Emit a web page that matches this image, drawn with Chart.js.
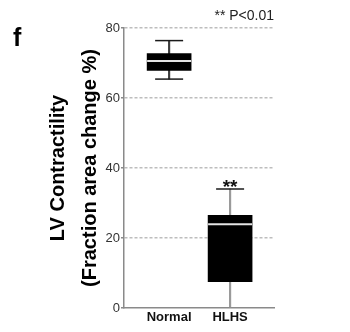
<!DOCTYPE html>
<html>
<head>
<meta charset="utf-8">
<script src="https://cdn.jsdelivr.net/npm/chart.js@4.4.0/dist/chart.umd.min.js"></script>
<style>
html, body { margin: 0; padding: 0; background: #fff; }
</style>
</head>
<body>
<canvas id="myChart" width="350" height="332"></canvas>
<script>
var categories = ['Normal', 'HLHS'];
var whiskerMin = [65.4, 0];
var quart1 = [67.9, 7.5];
var medians = [70.6, 23.9];
var quart3 = [72.7, 26.5];
var whiskerMax = [76.4, 34.0];
var yTicks = [0, 20, 40, 60, 80];
var sigMarks = ['', '**'];

var FONT = '"Liberation Sans", Arial, sans-serif';

function points(vals) {
    return vals.map(function (v, i) { return {x: i, y: v}; });
}
function ranges(lo, hi) {
    return lo.map(function (v, i) { return {x: i, y: [v, hi[i]]}; });
}

// text that is not part of the axes: panel letter, p-value note, stars
var annotate = {
    id: 'annotate',
    afterDraw: function (chart) {
        var ctx = chart.ctx;
        var xs = chart.scales.x, ys = chart.scales.y;
        ctx.save();
        ctx.fillStyle = '#000';
        ctx.textBaseline = 'alphabetic';
        ctx.textAlign = 'left';
        ctx.font = 'bold 25px ' + FONT;
        ctx.fillText('f', 13, 46);

        ctx.fillStyle = '#222';
        ctx.textAlign = 'right';
        ctx.font = '14px ' + FONT;
        ctx.fillText('** P<0.01', chart.chartArea.right, 20);

        ctx.fillStyle = '#111';
        ctx.textAlign = 'center';
        ctx.font = 'bold 19px ' + FONT;
        for (var i = 0; i < sigMarks.length; i++) {
            if (!sigMarks[i]) continue;
            ctx.fillText(sigMarks[i], xs.getPixelForValue(i), ys.getPixelForValue(whiskerMax[i]) + 4);
        }
        ctx.restore();
    }
};

var ctx = document.getElementById('myChart');
var chart = new Chart(ctx, {
    data: {
        datasets: [
            {
                type: 'bar',
                data: ranges(whiskerMin, whiskerMax),
                backgroundColor: ['#3c3c3c', '#9a9a9a'],
                barThickness: 1.5,
                grouped: false,
                order: 3
            },
            {
                type: 'bar',
                data: ranges(quart1, quart3),
                backgroundColor: '#000',
                barThickness: 44,
                grouped: false,
                order: 1
            },
            {
                type: 'line',
                data: points(whiskerMax),
                showLine: false,
                pointStyle: 'line',
                pointRadius: 14,
                pointBorderWidth: 1.5,
                pointBorderColor: '#1a1a1a',
                order: 2
            },
            {
                type: 'line',
                data: points(whiskerMin),
                showLine: false,
                pointStyle: 'line',
                pointRadius: 14,
                pointBorderWidth: 1.5,
                pointBorderColor: ['#1a1a1a', '#8a8a8a'],
                order: 2
            },
            {
                type: 'line',
                data: points(medians),
                showLine: false,
                pointStyle: 'line',
                pointRadius: 22,
                pointBorderWidth: 2,
                pointBorderColor: '#e4e4e4',
                order: 0
            }
        ]
    },
    options: {
        responsive: false,
        animation: false,
        events: [],
        layout: {padding: {top: 28, right: 76, bottom: 0, left: 0}},
        plugins: {
            legend: {display: false},
            tooltip: {enabled: false}
        },
        scales: {
            x: {
                type: 'linear',
                min: -0.74,
                max: 1.72,
                offset: false,
                bounds: 'data',
                afterBuildTicks: function (s) {
                    s.ticks = categories.map(function (c, i) { return {value: i}; });
                },
                afterFit: function (s) { s.height = 18; },
                ticks: {
                    callback: function (v) { return categories[v]; },
                    color: '#111',
                    font: {family: FONT, size: 13, weight: 'bold'},
                    padding: 2,
                    maxRotation: 0,
                    autoSkip: false
                },
                grid: {display: false, drawTicks: false},
                border: {display: true, color: '#8a8a8a', width: 1.5}
            },
            y: {
                min: 0,
                max: 80,
                afterBuildTicks: function (s) {
                    s.ticks = yTicks.map(function (v) { return {value: v}; });
                },
                afterFit: function (s) { s.width = 124; },
                ticks: {
                    color: '#333',
                    font: {family: FONT, size: 13},
                    padding: 1
                },
                grid: {
                    color: function (c) {
                        return c.tick && c.tick.value === 0 ? 'rgba(0,0,0,0)' : '#bdbdbd';
                    },
                    lineWidth: 1.5,
                    tickLength: 3,
                    tickColor: '#8a8a8a',
                    tickWidth: 1.5
                },
                border: {color: '#8a8a8a', width: 1.5, dash: [3, 2]},
                title: {
                    display: true,
                    text: ['LV Contractility', '(Fraction area change %)'],
                    color: '#000',
                    font: {family: FONT, size: 20, weight: 'bold', lineHeight: 1.6},
                    padding: {top: 42, bottom: 0}
                }
            }
        }
    },
    plugins: [annotate]
});
</script>
</body>
</html>
